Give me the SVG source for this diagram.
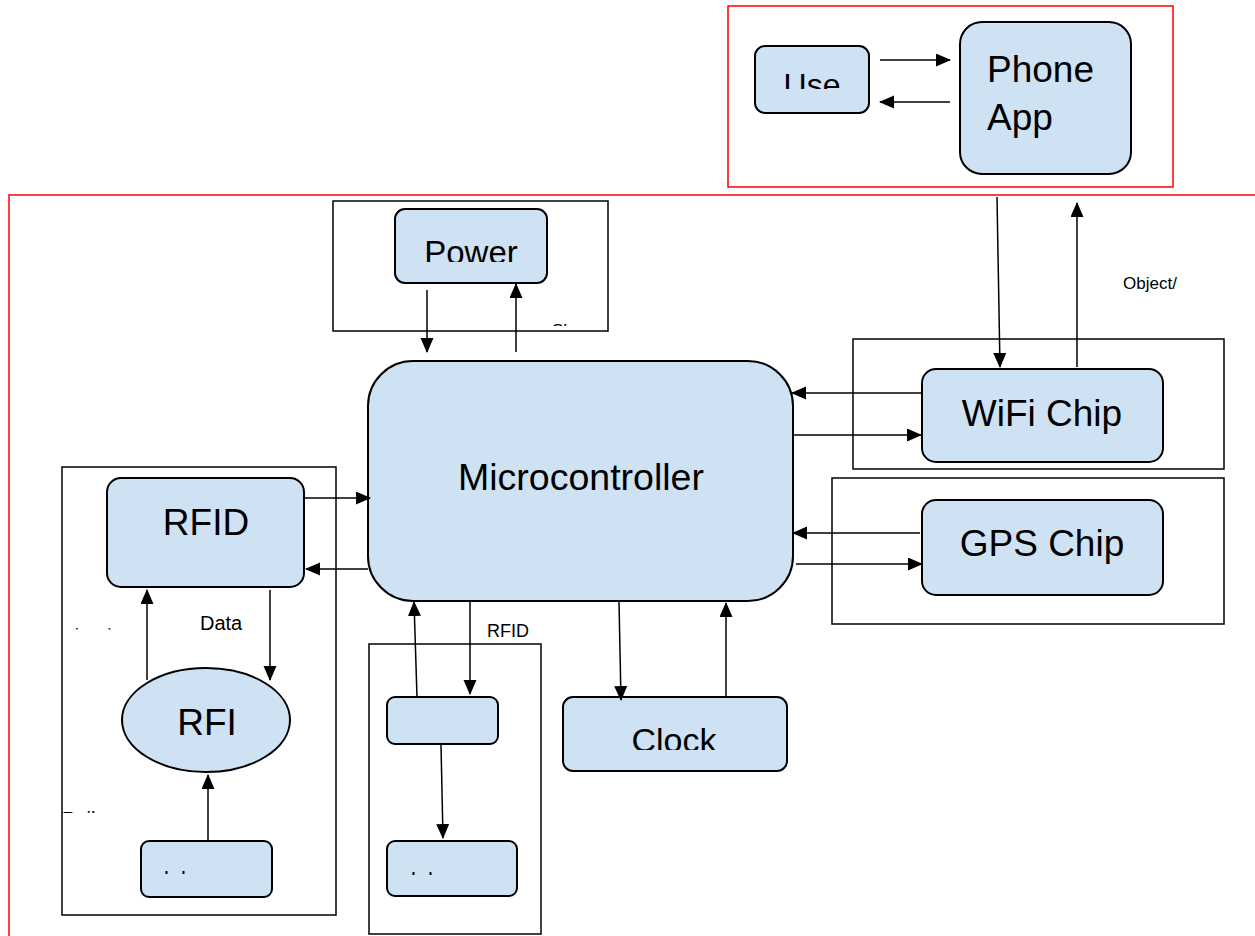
<svg xmlns="http://www.w3.org/2000/svg" width="1255" height="936" viewBox="0 0 1255 936">
<style>
.node{fill:#cfe2f3;stroke:#000;stroke-width:2}
.frame{fill:none;stroke:#000;stroke-width:1.5}
.red{fill:none;stroke:#ff0000;stroke-width:1.5}
.t{font-family:"Liberation Sans",Arial,sans-serif;fill:#000}
.c{stroke:#000;stroke-width:1.5;fill:none;marker-end:url(#ah)}
</style>
<defs>
<marker id="ah" markerWidth="15" markerHeight="14" refX="14" refY="6.5" orient="auto" markerUnits="userSpaceOnUse">
<path d="M0,0 L15,6.5 L0,13 Z" fill="#000"/>
</marker>
<clipPath id="cUse"><rect x="755" y="46" width="114" height="43"/></clipPath>
<clipPath id="cPow"><rect x="395" y="209" width="152" height="53"/></clipPath>
<clipPath id="cClk"><rect x="563" y="697" width="224" height="53"/></clipPath>
<clipPath id="cSh"><rect x="540" y="310" width="80" height="16"/></clipPath>
<clipPath id="cJ"><rect x="310" y="570" width="20" height="10"/></clipPath>
<clipPath id="cDots1"><rect x="60" y="620" width="60" height="10"/></clipPath>
<clipPath id="cPail"><rect x="60" y="800" width="70" height="13"/></clipPath>
<clipPath id="cB1"><rect x="141" y="860" width="131" height="14"/></clipPath>
<clipPath id="cB2"><rect x="387" y="860" width="130" height="15"/></clipPath>
</defs>

<g id="frames">
<rect class="red" x="728" y="6" width="445" height="181"/>
<path class="red" d="M9,940 L9,195 L1260,195"/>
<rect class="frame" x="333" y="201" width="275" height="130"/>
<rect class="frame" x="853" y="339" width="371" height="130"/>
<rect class="frame" x="832" y="478" width="392" height="146"/>
<rect class="frame" x="62" y="467" width="274" height="448"/>
<rect class="frame" x="369" y="644" width="172" height="290"/>
</g>

<g id="user">
<rect class="node" x="755" y="46" width="114" height="67" rx="10"/>
<text class="t" x="812" y="96" font-size="32" text-anchor="middle" clip-path="url(#cUse)">Use</text>
</g>
<g id="phone-app">
<rect class="node" x="960" y="22" width="171" height="152" rx="22"/>
<text class="t" x="987" y="82" font-size="37">Phone</text>
<text class="t" x="987" y="130" font-size="37">App</text>
</g>
<g id="power">
<rect class="node" x="395" y="209" width="152" height="74" rx="10"/>
<text class="t" x="471" y="264" font-size="33" text-anchor="middle" clip-path="url(#cPow)">Power</text>
</g>
<g id="power-label">
<text class="t" x="552" y="336" font-size="17" clip-path="url(#cSh)">Sh</text>
</g>
<g id="microcontroller">
<rect class="node" x="368" y="361" width="425" height="240" rx="45"/>
<text class="t" x="581" y="490" font-size="37.5" text-anchor="middle">Microcontroller</text>
</g>
<g id="wifi">
<rect class="node" x="922" y="369" width="241" height="93" rx="14"/>
<text class="t" x="1042" y="426" font-size="37" text-anchor="middle">WiFi Chip</text>
</g>
<g id="gps">
<rect class="node" x="922" y="500" width="241" height="95" rx="14"/>
<text class="t" x="1042" y="556" font-size="37" text-anchor="middle">GPS Chip</text>
</g>
<g id="rfid">
<rect class="node" x="107" y="478" width="197" height="109" rx="14"/>
<text class="t" x="206" y="535" font-size="37" text-anchor="middle">RFID</text>
</g>
<g id="rfi">
<ellipse class="node" cx="206" cy="720" rx="84" ry="52"/>
<text class="t" x="207" y="735" font-size="37" text-anchor="middle">RFI</text>
</g>
<g id="rfid-bottom">
<rect class="node" x="141" y="841" width="131" height="56" rx="8"/>
<text class="t" x="164" y="887" font-size="22" letter-spacing="3" clip-path="url(#cB1)">l l</text>
</g>
<g id="middle-node">
<rect class="node" x="387" y="697" width="111" height="47" rx="8"/>
</g>
<g id="middle-bottom">
<rect class="node" x="387" y="841" width="130" height="55" rx="8"/>
<text class="t" x="411" y="888" font-size="22" letter-spacing="3" clip-path="url(#cB2)">l l</text>
</g>
<g id="clock">
<rect class="node" x="563" y="697" width="224" height="74" rx="10"/>
<text class="t" x="674" y="752" font-size="34" text-anchor="middle" clip-path="url(#cClk)">Clock</text>
</g>

<g id="labels">
<text class="t" x="1123" y="289" font-size="17">Object/</text>
<text class="t" x="200" y="630" font-size="20">Data</text>
<text class="t" x="487" y="637" font-size="18">RFID</text>
<text class="t" x="75" y="640" font-size="17" letter-spacing="12" clip-path="url(#cDots1)">i i</text>
<text class="t" x="62" y="826" font-size="20" clip-path="url(#cPail)">Pail</text>
<text class="t" x="314" y="590" font-size="14" clip-path="url(#cJ)">J</text>
</g>

<g id="connectors">
<line class="c" x1="880" y1="60" x2="950" y2="60"/>
<line class="c" x1="950" y1="102" x2="880" y2="102"/>
<line class="c" x1="427" y1="290" x2="427" y2="352"/>
<line class="c" x1="516" y1="352" x2="516" y2="284"/>
<line class="c" x1="997" y1="197" x2="1000" y2="367"/>
<line class="c" x1="1077" y1="367" x2="1077" y2="203"/>
<line class="c" x1="921" y1="393" x2="792" y2="393"/>
<line class="c" x1="793" y1="435" x2="921" y2="435"/>
<line class="c" x1="920" y1="533" x2="793" y2="533"/>
<line class="c" x1="796" y1="564" x2="922" y2="564"/>
<line class="c" x1="305" y1="498" x2="370" y2="498"/>
<line class="c" x1="368" y1="569" x2="306" y2="569"/>
<line class="c" x1="147" y1="680" x2="147" y2="590"/>
<line class="c" x1="270" y1="590" x2="270" y2="680"/>
<line class="c" x1="208" y1="840" x2="208" y2="775"/>
<line class="c" x1="417" y1="697" x2="414" y2="602"/>
<line class="c" x1="470" y1="602" x2="470" y2="694"/>
<line class="c" x1="441" y1="745" x2="443" y2="838"/>
<line class="c" x1="619" y1="602" x2="621" y2="700"/>
<line class="c" x1="726" y1="697" x2="726" y2="603"/>
</g>
</svg>
